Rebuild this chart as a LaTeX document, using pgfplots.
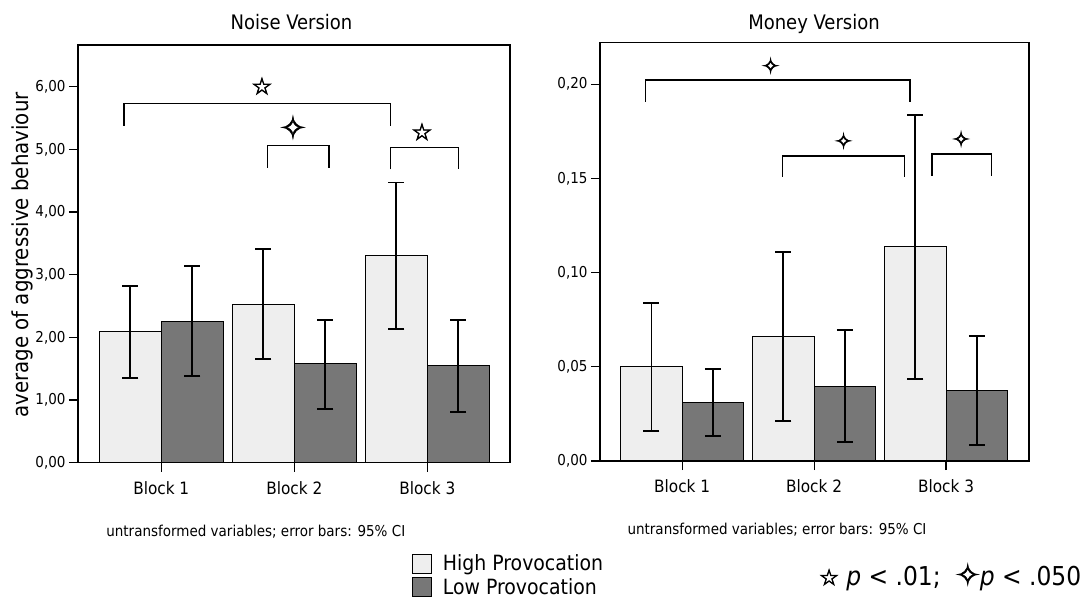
\documentclass[border=0pt]{standalone}
\usepackage{pgfplots}
\pgfplotsset{compat=1.18}
\usepackage{pgfplotstable}
\usepackage{fontspec}
\setmainfont{DejaVu Sans Condensed}
\newfontfamily\sym{DejaVu Sans}
\newfontfamily\symb[FakeBold=3]{DejaVu Sans}
\newfontfamily\symm[FakeBold=1.5]{DejaVu Sans}
\definecolor{hiC}{RGB}{238,238,238}
\definecolor{loC}{RGB}{119,119,119}

\pgfplotstableread{
x y ep em
1 2.09 0.73 0.734
2 2.53 0.88 0.88
3 3.30 1.17 1.17
}\noiseHigh
\pgfplotstableread{
x y ep em
1 2.26 0.88 0.88
2 1.575 0.705 0.715
3 1.55 0.73 0.74
}\noiseLow
\pgfplotstableread{
x y ep em
1 0.0500 0.0339 0.0341
2 0.0662 0.0449 0.0450
3 0.1136 0.0701 0.0701
}\moneyHigh
\pgfplotstableread{
x y ep em
1 0.0312 0.0176 0.0179
2 0.0398 0.0299 0.0297
3 0.0373 0.0292 0.0288
}\moneyLow

\pgfplotsset{
  myax/.style={
    scale only axis,
    ybar=0pt, bar width=0.466,
    xtick={1,2,3}, xticklabels={Block 1,Block 2,Block 3},
    tick align=outside, xtick pos=lower, ytick pos=left,
    major tick length=9pt,
    every tick/.style={black, line width=1.2pt},
    axis line style={line width=1.2pt},
    xticklabel style={font=\fontsize{17}{20}\selectfont, yshift=-6pt},
    yticklabel style={font=\fontsize{15}{18}\selectfont,
      /pgf/number format/.cd, fixed, fixed zerofill, precision=2, use comma, assume math mode=true},
    ymin=0,
    legend image code/.code={\draw[#1, draw=black, line width=0.8pt] (0pt,-9.5pt) rectangle (19pt,9.5pt);},
  },
  barhi/.style={fill=hiC, draw=black, line width=1pt,
    error bars/.cd, y dir=both, y explicit,
    error bar style={line width=1.8pt, black},
    error mark options={rotate=90, mark size=8pt, line width=1.8pt, black}},
  barlo/.style={fill=loC, draw=black, line width=1pt,
    error bars/.cd, y dir=both, y explicit,
    error bar style={line width=1.8pt, black},
    error mark options={rotate=90, mark size=8pt, line width=1.8pt, black}},
}

\begin{document}
\begin{tikzpicture}
\useasboundingbox (0pt,0pt) rectangle (1084pt,600pt);

\begin{axis}[myax,
  at={(78pt,137.3pt)}, anchor=south west,
  width=432pt, height=417.7pt,
  xmin=0.374, xmax=3.622, ymax=6.665,
  ytick={0,1,2,3,4,5,6},
  legend style={at={(axis description cs:0.773,-0.215)}, anchor=north west,
    draw=none, fill=none, inner sep=0pt, row sep=2pt,
    font=\fontsize{21}{25}\selectfont, legend cell align=left},
]
\addplot[barhi] table[x=x,y=y,y error plus=ep,y error minus=em]{\noiseHigh};
\addlegendentry{\hspace*{9pt}High Provocation}
\addplot[barlo] table[x=x,y=y,y error plus=ep,y error minus=em]{\noiseLow};
\addlegendentry{\hspace*{9pt}Low Provocation}
\draw[line width=2pt] (rel axis cs:0,0) -- (rel axis cs:1,0);
\draw[line width=1.5pt] (axis cs:0.72,5.38) |- (axis cs:2.725,5.73) -- (axis cs:2.725,5.38);
\draw[line width=1.5pt] (axis cs:1.797,4.71) |- (axis cs:2.26,5.06) -- (axis cs:2.26,4.71);
\draw[line width=1.5pt] (axis cs:2.725,4.68) |- (axis cs:3.236,5.03) -- (axis cs:3.236,4.68);
\node[font=\symb\fontsize{23}{23}\selectfont] at (axis cs:1.757,6.01) {☆};
\node[font=\symm\fontsize{31}{31}\selectfont] at (axis cs:1.99,5.35) {✧};
\node[font=\symb\fontsize{23}{23}\selectfont] at (axis cs:2.96,5.28) {☆};
\end{axis}

\begin{axis}[myax,
  at={(600pt,139pt)}, anchor=south west,
  width=429pt, height=418.3pt,
  xmin=0.377, xmax=3.629, ymax=0.222,
  ytick={0,0.05,0.1,0.15,0.2},
]
\addplot[barhi] table[x=x,y=y,y error plus=ep,y error minus=em]{\moneyHigh};
\addplot[barlo] table[x=x,y=y,y error plus=ep,y error minus=em]{\moneyLow};
\draw[line width=2pt] (rel axis cs:0,0) -- (rel axis cs:1,0);
\draw[line width=1.5pt] (axis cs:0.723,0.1907) |- (axis cs:2.727,0.2022) -- (axis cs:2.727,0.1907);
\draw[line width=1.5pt] (axis cs:1.761,0.1509) |- (axis cs:2.687,0.1619) -- (axis cs:2.687,0.1509);
\draw[line width=1.5pt] (axis cs:2.892,0.1513) |- (axis cs:3.344,0.1628) -- (axis cs:3.344,0.1513);
\node[font=\symb\fontsize{20}{20}\selectfont] at (axis cs:1.67,0.2098) {✧};
\node[font=\symb\fontsize{20}{20}\selectfont] at (axis cs:2.223,0.1699) {✧};
\node[font=\symb\fontsize{20}{20}\selectfont] at (axis cs:3.114,0.1709) {✧};
\end{axis}

% titles, axis label and notes
\node[anchor=base, font=\fontsize{20}{24}\selectfont] at (291.5pt,570pt) {Noise Version};
\node[anchor=base, font=\fontsize{20}{24}\selectfont] at (814pt,570pt) {Money Version};
\node[rotate=90, font=\fontsize{22}{26}\selectfont] at (22pt,345pt) {average of aggressive behaviour};
\node[font=\fontsize{15}{18}\selectfont] at (255.8pt,68.3pt) {untransformed variables; error bars: 95\% CI};
\node[font=\fontsize{15}{18}\selectfont] at (777pt,70pt) {untransformed variables; error bars: 95\% CI};
\node[anchor=west, font=\fontsize{26}{30}\selectfont, inner sep=0pt] at (819pt,23pt)
  {{\symb\fontsize{22}{22}\selectfont ☆} \textit{p} < .01;\ \ {\symm\fontsize{29}{29}\selectfont ✧}\textit{p} < .050};
\end{tikzpicture}
\end{document}
